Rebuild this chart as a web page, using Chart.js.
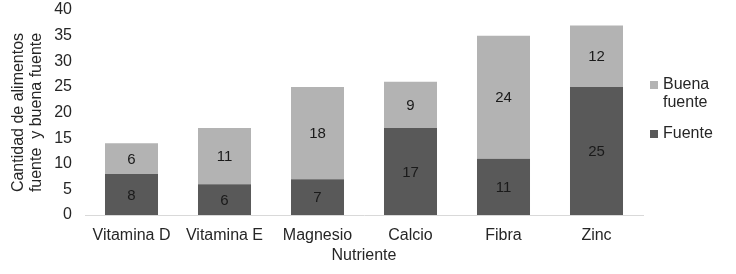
<!DOCTYPE html>
<html>
<head>
<meta charset="utf-8">
<script src="https://cdn.jsdelivr.net/npm/chart.js@4"></script>
<style>
  html, body { margin: 0; padding: 0; background: #fff; }
  #wrap { width: 736px; height: 274px; }
</style>
</head>
<body>
<div id="wrap"><canvas id="bar-chart" width="736" height="274"></canvas></div>
<script>
const nutrientes = ["Vitamina D", "Vitamina E", "Magnesio", "Calcio", "Fibra", "Zinc"];
const fuente = [8, 6, 7, 17, 11, 25];
const buenaFuente = [6, 11, 18, 9, 24, 12];
const yTicks = [0, 5, 10, 15, 20, 25, 30, 35, 40];

const COLORS = {
  fuente: "#595959",
  buena: "#b3b3b3",
  text: "#262626",
};

const FONT = "'Liberation Sans', Arial, sans-serif";

// numbers in the middle of each segment
const segmentLabels = {
  id: "segmentLabels",
  afterDatasetsDraw(chart) {
    const ctx = chart.ctx;
    ctx.save();
    ctx.font = "15px " + FONT;
    ctx.fillStyle = "#1a1a1a";
    ctx.textAlign = "center";
    ctx.textBaseline = "middle";
    chart.data.datasets.forEach((ds, i) => {
      chart.getDatasetMeta(i).data.forEach((bar, j) => {
        const mid = (bar.y + bar.base) / 2;
        ctx.fillText(String(ds.data[j]), bar.x, mid + 1);
      });
    });
    ctx.restore();
  },
};

// legend on the right, "Buena fuente" wraps onto two lines
const sideLegend = {
  id: "sideLegend",
  afterDraw(chart) {
    const ctx = chart.ctx;
    ctx.save();
    ctx.font = "16px " + FONT;
    ctx.textBaseline = "middle";
    ctx.textAlign = "left";
    const items = [
      { color: COLORS.buena, lines: ["Buena", "fuente"], y: 85 },
      { color: COLORS.fuente, lines: ["Fuente"], y: 134 },
    ];
    items.forEach((it) => {
      ctx.fillStyle = it.color;
      ctx.fillRect(650, it.y - 4, 8, 8);
      ctx.fillStyle = COLORS.text;
      it.lines.forEach((l, k) => ctx.fillText(l, 663, it.y + k * 18));
    });
    ctx.restore();
  },
};

const data = {
  labels: nutrientes,
  datasets: [
    {
      label: "Fuente",
      data: fuente,
      backgroundColor: COLORS.fuente,
    },
    {
      label: "Buena fuente",
      data: buenaFuente,
      backgroundColor: COLORS.buena,
    },
  ],
};

const config = {
  type: "bar",
  data: data,
  options: {
    responsive: false,
    animation: false,
    layout: { padding: { top: 10, right: 93, bottom: 9, left: 0 } },
    datasets: {
      bar: { categoryPercentage: 1, barPercentage: 0.57 },
    },
    plugins: {
      legend: { display: false },
      tooltip: { enabled: false },
    },
    scales: {
      x: {
        stacked: true,
        grid: { display: false, drawTicks: false },
        border: { display: true, color: "#d9d9d9", width: 1 },
        ticks: {
          color: COLORS.text,
          padding: 11,
          font: { family: FONT, size: 16 },
          maxRotation: 0,
        },
        title: {
          display: true,
          text: "Nutriente",
          color: COLORS.text,
          font: { family: FONT, size: 16 },
          padding: { top: 0, bottom: 0 },
        },
        afterFit(scale) {
          scale.height = 50;
          scale.paddingLeft = 0;
          scale.paddingRight = 0;
        },
      },
      y: {
        stacked: true,
        min: 0,
        max: 40,
        afterBuildTicks(scale) { scale.ticks = yTicks.map((v) => ({ value: v })); },
        grid: { display: false, drawTicks: false },
        border: { display: false },
        ticks: {
          color: COLORS.text,
          padding: 13,
          font: { family: FONT, size: 16 },
        },
        title: {
          display: true,
          text: ["Cantidad de alimentos", "fuente  y buena fuente"],
          color: COLORS.text,
          font: { family: FONT, size: 16, lineHeight: 1.125 },
          padding: { top: 10, bottom: 0 },
        },
        afterFit(scale) {
          scale.width = 85;
          scale.paddingTop = 0;
          scale.paddingBottom = 0;
        },
      },
    },
  },
  plugins: [segmentLabels, sideLegend],
};

var ctx = document.getElementById("bar-chart").getContext("2d");
var myChart = new Chart(ctx, config);
</script>
</body>
</html>
